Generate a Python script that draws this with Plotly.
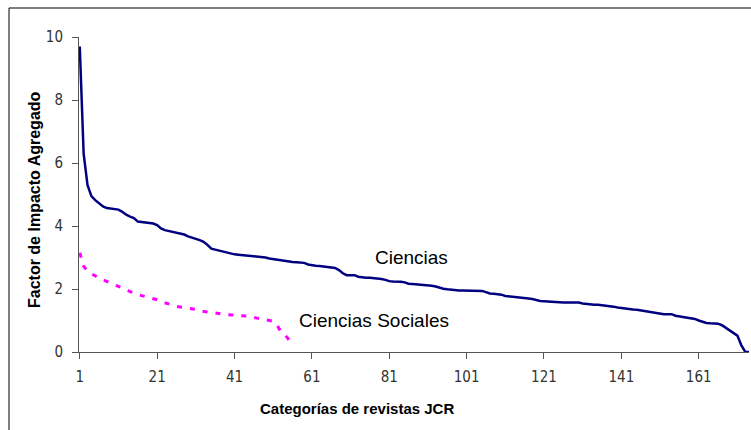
import plotly.graph_objects as go

# Ciencias: aggregated impact factor per JCR category (sorted)
ciencias = [
    9.70, 6.30, 5.30, 4.95, 4.82, 4.73, 4.62, 4.57, 4.55, 4.54,
    4.52, 4.45, 4.36, 4.30, 4.25, 4.14, 4.13, 4.12, 4.11, 4.08,
    4.03, 3.92, 3.87, 3.84, 3.82, 3.80, 3.77, 3.73, 3.67, 3.62,
    3.59, 3.55, 3.50, 3.40, 3.28, 3.25, 3.22, 3.18, 3.15, 3.12,
    3.10, 3.09, 3.08, 3.07, 3.06, 3.04, 3.02, 3.01, 3.00, 2.97,
    2.95, 2.93, 2.90, 2.88, 2.87, 2.86, 2.85, 2.84, 2.83, 2.78,
    2.75, 2.74, 2.73, 2.72, 2.71, 2.70, 2.67, 2.60, 2.50, 2.44,
    2.44, 2.44, 2.39, 2.37, 2.36, 2.36, 2.35, 2.34, 2.32, 2.29,
    2.25, 2.24, 2.24, 2.23, 2.21, 2.17, 2.16, 2.15, 2.14, 2.14,
    2.12, 2.10, 2.08, 2.04, 2.01, 1.99, 1.97, 1.95, 1.95, 1.95,
    1.95, 1.95, 1.95, 1.95, 1.94, 1.90, 1.86, 1.85, 1.84, 1.82,
    1.78, 1.77, 1.76, 1.75, 1.73, 1.71, 1.70, 1.68, 1.64, 1.62,
    1.61, 1.60, 1.58, 1.57, 1.57, 1.57, 1.57, 1.57, 1.57, 1.57,
    1.54, 1.52, 1.51, 1.50, 1.50, 1.49, 1.48, 1.47, 1.44, 1.41,
    1.39, 1.37, 1.36, 1.35, 1.34, 1.32, 1.29, 1.26, 1.24, 1.22,
    1.21, 1.20, 1.20, 1.20, 1.15, 1.13, 1.12, 1.10, 1.08, 1.05,
    1.00, 0.96, 0.92, 0.91, 0.91, 0.90, 0.85, 0.77, 0.67, 0.60,
    0.52, 0.22, 0.01, 0.00,
]

# Ciencias Sociales
sociales = [
    3.15, 2.72, 2.57, 2.48, 2.42, 2.34, 2.29, 2.24, 2.20, 2.14,
    2.08, 2.03, 1.98, 1.92, 1.86, 1.82, 1.79, 1.76, 1.74, 1.71,
    1.66, 1.60, 1.56, 1.52, 1.48, 1.45, 1.43, 1.41, 1.40, 1.38,
    1.35, 1.31, 1.29, 1.27, 1.24, 1.22, 1.21, 1.20, 1.19, 1.18,
    1.17, 1.16, 1.15, 1.15, 1.13, 1.10, 1.06, 1.04, 1.02, 1.00,
    0.98, 0.85, 0.64, 0.55, 0.40, 0.25,
]

x_ticks = [1, 21, 41, 61, 81, 101, 121, 141, 161]
y_ticks = [0, 2, 4, 6, 8, 10]

x_c = list(range(1, len(ciencias) + 1))
x_s = list(range(1, len(sociales) + 1))

tick_font = dict(family="Liberation Sans Narrow, Arial Narrow, DejaVu Sans Condensed, sans-serif",
                 size=15, color="#333333")
label_font = "Liberation Sans, Arial, sans-serif"

fig = go.Figure()
fig.add_trace(go.Scatter(x=x_c, y=ciencias, mode="lines",
                         line=dict(color="#000080", width=2.5), showlegend=False))
fig.add_trace(go.Scatter(x=x_s, y=sociales, mode="lines",
                         line=dict(color="#FF00FF", width=3, dash="5px,8px"), showlegend=False))


def px_x(p):
    return (p - 79) / 670


def px_y(p):
    return (352 - p) / 315


fig.update_layout(
    width=751, height=430,
    margin=dict(l=79, r=2, t=37, b=78),
    paper_bgcolor="white", plot_bgcolor="white",
    xaxis=dict(range=[0.8, 174], tickvals=x_ticks, ticktext=[str(v) for v in x_ticks],
               showgrid=False, zeroline=False, showline=True, linecolor="#555555", linewidth=1,
               ticks="outside", ticklen=6, tickcolor="#555555", tickfont=tick_font,
               ticklabelstandoff=5),
    yaxis=dict(range=[0, 10], tickvals=y_ticks, ticktext=[str(v) for v in y_ticks],
               showgrid=False, zeroline=False, showline=True, linecolor="#555555", linewidth=1,
               ticks="outside", ticklen=6, tickcolor="#555555", tickfont=tick_font,
               ticklabelstandoff=6),
    shapes=[dict(type="rect", xref="paper", yref="paper",
                 x0=px_x(9), x1=1.2, y0=-0.5, y1=px_y(8),
                 line=dict(color="#000000", width=1), fillcolor="rgba(0,0,0,0)", layer="below")],
    annotations=[
        dict(text="Ciencias", xref="paper", yref="paper",
             x=px_x(411.5), y=px_y(257.5), xanchor="center", yanchor="middle", showarrow=False,
             font=dict(family=label_font, size=19, color="#000000")),
        dict(text="Ciencias Sociales", xref="paper", yref="paper",
             x=px_x(374), y=px_y(320.5), xanchor="center", yanchor="middle", showarrow=False,
             font=dict(family=label_font, size=19, color="#000000")),
        dict(text="<b>Categorías de revistas JCR</b>", xref="paper", yref="paper",
             x=px_x(356.5), y=px_y(408), xanchor="center", yanchor="middle", showarrow=False,
             font=dict(family=label_font, size=15, color="#000000")),
        dict(text="<b>Factor de Impacto Agregado</b>", xref="paper", yref="paper",
             x=px_x(35), y=px_y(200), xanchor="center", yanchor="middle", showarrow=False,
             textangle=-90,
             font=dict(family=label_font, size=16, color="#000000")),
    ],
)

fig.write_html("out.html", config={"displayModeBar": False},
               post_script="document.body.style.margin='0';")
